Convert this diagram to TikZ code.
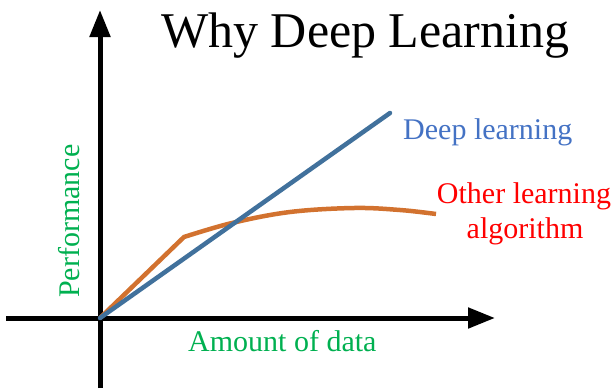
\documentclass[tikz,border=0pt]{standalone}
\usepackage{fontspec}
\setmainfont{LiberationSerif}[Extension=.ttf, UprightFont=*-Regular, BoldFont=*-Bold, ItalicFont=*-Italic]
\usetikzlibrary{arrows.meta}
\definecolor{dlblue}{HTML}{41719C}
\definecolor{dltext}{HTML}{4472C4}
\definecolor{oorange}{HTML}{D2722F}
\definecolor{ored}{HTML}{FF0000}
\definecolor{lblgreen}{HTML}{00B050}
\tikzset{
  axis/.style={line width=5pt, -{Triangle[length=27pt,width=20pt]}},
  curve/.style={line width=4.5pt},
  lbl/.style={inner sep=0pt, font=\fontsize{30}{35}\selectfont},
}
\begin{document}
\begin{tikzpicture}[x=1pt,y=-1pt]
\useasboundingbox (0,0) rectangle (615,388);
% axes
\coordinate (O) at (100,318);
\coordinate (ybot) at (100,388);
\coordinate (ytop) at (100,10);
\coordinate (xleft) at (6,318);
\coordinate (xright) at (495,318);
\draw[axis] (ybot) -- (ytop);
\draw[axis] (xleft) -- (xright);
% curves
\coordinate (dlend) at (390,113);
\coordinate (kink) at (184,237);
\draw[curve, oorange, line join=miter] (O) -- (kink)
  -- plot[smooth, tension=0.6] coordinates {(kink) (232,223) (290,212) (354,208) (400,210) (436,214)};
\draw[curve, dlblue, line cap=round] (O) -- (dlend);
% labels
\node[inner sep=0pt, anchor=base west, font=\fontsize{50}{55}\selectfont] (title) at (161,47) {Why Deep Learning};
\node[lbl, anchor=base west, text=dltext] (dl) at (403,139) {Deep learning};
\node[lbl, anchor=base, text=ored] (other1) at (524,203) {Other learning};
\node[lbl, anchor=base, text=ored] (other2) at (525,238) {algorithm};
\node[lbl, anchor=base west, rotate=90, text=lblgreen] (perf) at (79,298) {Performance};
\node[lbl, anchor=base west, text=lblgreen] (amount) at (188,351) {Amount of data};
\end{tikzpicture}
\end{document}
